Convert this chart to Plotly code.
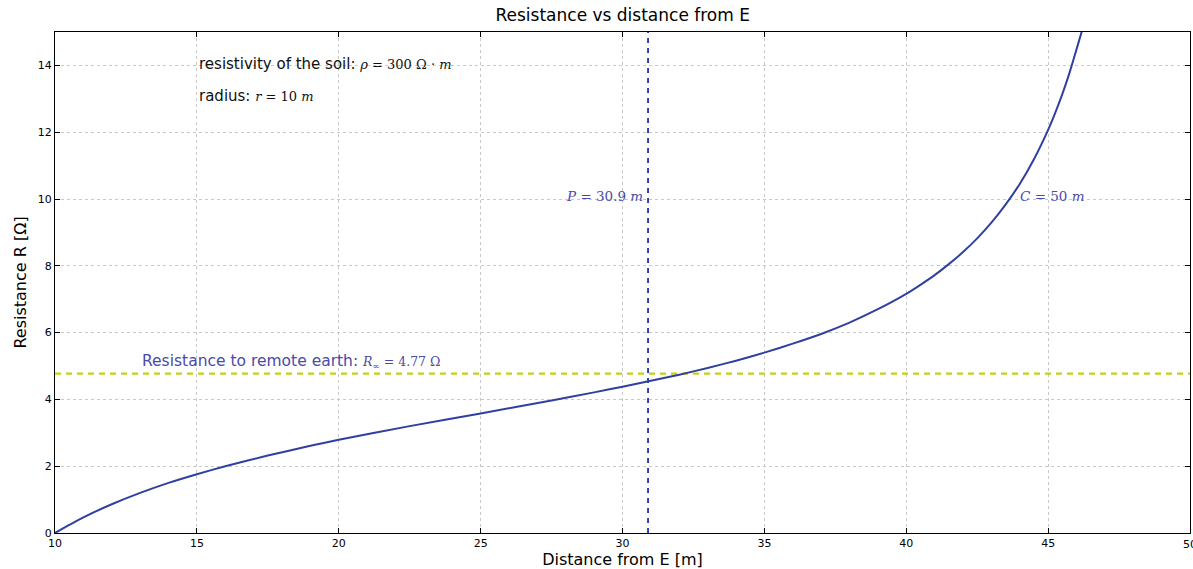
import plotly.graph_objects as go

# Read-off values
distance_m = [10, 10.5, 11, 12, 13, 14, 15, 16, 17.5, 19, 20, 22.5, 25, 27.5, 29, 30, 31, 32,
              33, 34, 35, 36, 37, 38, 39, 40, 40.5, 41, 41.5, 42, 42.5, 43, 43.5, 44, 44.5,
              45, 45.25, 45.5, 45.75, 46, 46.25]
resistance_ohm = [0, 0.24, 0.47, 0.86, 1.2, 1.5, 1.76, 2.0, 2.32, 2.61, 2.79, 3.2, 3.58, 3.97,
                  4.21, 4.38, 4.56, 4.74, 4.94, 5.16, 5.4, 5.67, 5.96, 6.3, 6.7, 7.16, 7.43,
                  7.72, 8.05, 8.41, 8.82, 9.29, 9.83, 10.45, 11.19, 12.07, 12.58, 13.14, 13.77,
                  14.48, 15.2]
r_remote = 4.77
p_dist = 30.9
x_ticks = [10, 15, 20, 25, 30, 35, 40, 45]
y_ticks = [0, 2, 4, 6, 8, 10, 12, 14]

blue = "#3040a0"
txt_blue = "#4a4aa8"


def math(s, size):
    return f"<span style='font-family:DejaVu Serif;font-size:{size}px'>{s}</span>"


fig = go.Figure()
fig.add_trace(go.Scatter(x=[10, 50], y=[r_remote, r_remote], mode="lines",
                         line=dict(color="#c4d214", width=2.2, dash="6px,5px"),
                         showlegend=False, hoverinfo="skip"))
fig.add_trace(go.Scatter(x=[p_dist, p_dist], y=[0, 15], mode="lines",
                         line=dict(color="#2030b0", width=1.8, dash="5px,5px"),
                         showlegend=False, hoverinfo="skip"))
fig.add_trace(go.Scatter(x=distance_m, y=resistance_ohm, mode="lines",
                         line=dict(color=blue, width=2, shape="spline", smoothing=0.5),
                         showlegend=False))

annos = [
    dict(x=15, y=14.05, text="resistivity of the soil: " + math("<i>ρ</i> = 300 Ω · <i>m</i>", 13),
         color="#111111", size=15),
    dict(x=15, y=13.07, text="radius: " + math("<i>r</i> = 10 <i>m</i>", 13),
         color="#111111", size=15),
    dict(x=27.95, y=10.1, text=math("<i>P</i> = 30.9 <i>m</i>", 13.5), color=txt_blue, size=13.5),
    dict(x=43.95, y=10.1, text=math("<i>C</i> = 50 <i>m</i>", 13.5), color=txt_blue, size=13.5),
    dict(x=13.0, y=5.13, text="Resistance to remote earth: " + math("<i>R</i><sub>∞</sub> = 4.77 Ω", 12.5),
         color=txt_blue, size=15.5),
]
for a in annos:
    fig.add_annotation(x=a["x"], y=a["y"], text=a["text"], showarrow=False,
                       xanchor="left", yanchor="middle",
                       font=dict(family="DejaVu Sans", size=a["size"], color=a["color"]))

# clipped "50" tick label at the right edge, as in the reference
fig.add_annotation(x=50, y=0, yref="y", text="50", showarrow=False, xanchor="center",
                   yanchor="top", yshift=-3,
                   font=dict(family="DejaVu Sans", size=11, color="black"))

axis_common = dict(showline=True, linecolor="black", linewidth=1.2, mirror="ticks",
                   ticks="inside", ticklen=5, tickcolor="black",
                   showgrid=True, gridcolor="#c8c8c8", griddash="dot", gridwidth=1,
                   zeroline=False, tickfont=dict(family="DejaVu Sans", size=11, color="black"))

fig.update_layout(
    width=1193, height=569,
    margin=dict(l=55, r=3, t=32, b=36),
    plot_bgcolor="white", paper_bgcolor="white",
    title=dict(text="Resistance vs distance from E", x=0.522, xanchor="center",
               y=0.974, yanchor="middle",
               font=dict(family="DejaVu Sans", size=17, color="black")),
    xaxis=dict(range=[10, 50], tickvals=x_ticks,
               title=dict(text="Distance from E [m]", standoff=1,
                          font=dict(family="DejaVu Sans", size=16, color="black")),
               **axis_common),
    yaxis=dict(range=[0, 15], tickvals=y_ticks,
               title=dict(text="Resistance R [Ω]", standoff=7,
                          font=dict(family="DejaVu Sans", size=16, color="black")),
               **axis_common),
)

fig.write_html("out.html")
